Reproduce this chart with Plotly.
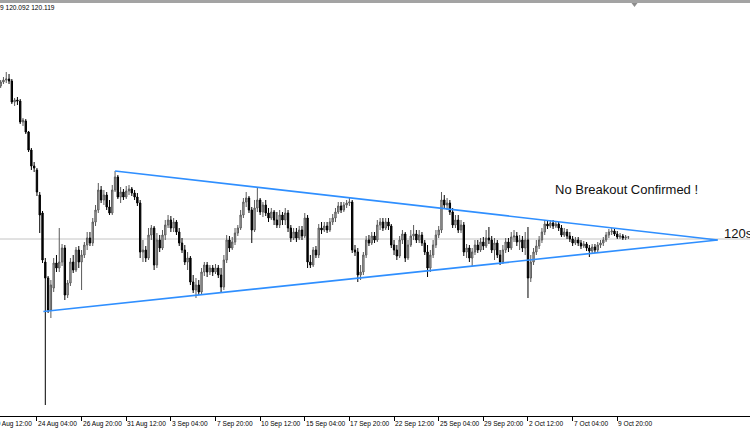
import plotly.graph_objects as go

# ---------------- data (H4 bars, index 0 = 19 Aug 12:00) ----------------
tick_labels = ["19 Aug 12:00", "24 Aug 04:00", "26 Aug 20:00", "31 Aug 12:00",
               "3 Sep 04:00", "7 Sep 20:00", "10 Sep 12:00", "15 Sep 04:00",
               "17 Sep 20:00", "22 Sep 12:00", "25 Sep 04:00", "29 Sep 20:00",
               "2 Oct 12:00", "7 Oct 04:00", "9 Oct 20:00"]
tick_bars = [0, 16, 32, 48, 64, 80, 96, 112, 128, 144, 160, 176, 192, 208, 224]

first_bar = 3

opens = [
    123.04, 123.12, 123.16, 123.18, 123.14, 122.72, 122.76, 122.74, 122.32, 122.34,
    122.12, 121.76, 121.44, 121.36, 120.86, 120.50, 119.52, 119.20, 118.56, 119.00,
    119.50, 119.40, 119.52, 119.80, 118.86, 119.10, 119.52, 119.36, 119.76, 119.52,
    119.66, 119.86, 120.00, 119.90, 120.32, 120.56, 120.96, 120.76, 120.86, 120.62,
    120.50, 120.96, 121.22, 120.82, 120.92, 120.82, 120.94, 120.98, 120.90, 120.82,
    120.70, 119.72, 119.76, 119.60, 120.06, 120.20, 119.46, 119.96, 119.80, 120.06,
    120.26, 120.36, 120.20, 120.32, 120.12, 119.90, 119.76, 119.52, 119.60, 119.12,
    118.96, 119.06, 118.92, 119.32, 119.46, 119.32, 119.40, 119.32, 119.40, 119.26,
    119.02, 119.56, 119.96, 119.80, 119.92, 120.10, 120.20, 120.46, 120.72, 120.80,
    120.56, 120.16, 120.60, 120.76, 120.52, 120.66, 120.50, 120.40, 120.52, 120.36,
    120.26, 120.46, 120.36, 120.50, 120.20, 120.00, 120.12, 120.00, 120.16, 120.04,
    120.40, 119.52, 119.46, 119.76, 119.66, 120.20, 120.16, 120.24, 120.16, 120.32,
    120.40, 120.52, 120.64, 120.56, 120.66, 120.70, 120.72, 119.76, 119.72, 119.26,
    119.32, 119.66, 119.96, 119.90, 120.04, 119.96, 120.26, 120.32, 120.20, 120.32,
    120.24, 119.86, 119.76, 119.64, 119.96, 120.08, 119.60, 119.86, 120.04, 120.08,
    119.96, 120.06, 119.90, 119.72, 119.40, 119.66, 119.86, 120.06, 120.16, 120.76,
    120.66, 120.70, 120.52, 120.26, 120.36, 120.16, 120.26, 119.72, 119.80, 119.60,
    119.72, 119.86, 119.76, 119.92, 119.84, 120.00, 119.96, 119.76, 119.90, 119.66,
    119.52, 119.76, 119.92, 119.80, 120.02, 120.04, 119.92, 119.96, 119.80, 119.96,
    119.20, 119.52, 119.72, 119.84, 119.96, 120.12, 120.28, 120.24, 120.30, 120.24,
    120.28, 120.20, 120.06, 120.12, 120.04, 119.98, 119.90, 119.96, 119.90, 119.84,
    119.88, 119.80, 119.74, 119.82, 119.76, 119.86, 119.90, 119.96, 120.06, 120.12,
    120.14, 120.08, 120.02, 120.04, 120.00, 120.02,
]
highs = [
    123.16, 123.22, 123.32, 123.28, 123.18, 122.80, 122.82, 122.78, 122.40, 122.38,
    122.14, 121.80, 121.52, 121.40, 120.92, 120.54, 119.60, 119.24, 119.16, 119.60,
    119.66, 120.20, 119.88, 119.86, 119.16, 119.60, 119.66, 119.82, 119.84, 119.76,
    119.92, 120.12, 120.12, 120.40, 120.66, 121.10, 121.04, 120.96, 120.92, 120.76,
    121.06, 121.34, 121.26, 121.02, 120.98, 121.04, 121.06, 121.02, 120.96, 120.90,
    120.76, 119.96, 119.84, 120.20, 120.26, 120.24, 120.10, 120.06, 120.16, 120.36,
    120.46, 120.44, 120.40, 120.36, 120.20, 120.00, 119.86, 119.72, 119.64, 119.26,
    119.20, 119.16, 119.40, 119.52, 119.52, 119.46, 119.46, 119.48, 119.46, 119.40,
    119.66, 120.06, 120.04, 120.02, 120.20, 120.26, 120.56, 120.80, 120.92, 120.84,
    120.62, 120.76, 121.00, 120.80, 120.72, 120.76, 120.60, 120.60, 120.56, 120.52,
    120.56, 120.52, 120.60, 120.56, 120.26, 120.20, 120.20, 120.24, 120.24, 120.50,
    120.46, 119.66, 119.82, 119.84, 120.28, 120.32, 120.32, 120.32, 120.40, 120.48,
    120.60, 120.72, 120.72, 120.72, 120.76, 120.82, 120.76, 119.86, 119.80, 119.46,
    119.72, 120.04, 120.06, 120.12, 120.12, 120.36, 120.40, 120.40, 120.40, 120.40,
    120.28, 119.96, 119.86, 120.04, 120.16, 120.12, 119.96, 120.16, 120.26, 120.16,
    120.16, 120.12, 119.96, 119.86, 119.76, 119.96, 120.16, 120.24, 120.92, 120.86,
    120.80, 120.76, 120.60, 120.46, 120.46, 120.36, 120.32, 119.88, 119.86, 119.80,
    119.96, 119.96, 120.00, 120.02, 120.16, 120.22, 120.04, 120.00, 119.96, 119.76,
    119.86, 120.00, 120.00, 120.12, 120.16, 120.12, 120.06, 120.04, 120.12, 120.22,
    119.66, 119.80, 119.96, 120.04, 120.20, 120.36, 120.36, 120.36, 120.36, 120.34,
    120.32, 120.26, 120.20, 120.18, 120.12, 120.04, 120.02, 120.02, 119.96, 119.94,
    119.92, 119.86, 119.88, 119.88, 119.92, 119.96, 120.02, 120.12, 120.18, 120.20,
    120.18, 120.14, 120.10, 120.08, 120.06, 120.04,
]
lows = [
    123.00, 123.08, 123.10, 123.08, 122.68, 122.64, 122.66, 122.28, 122.24, 122.08,
    121.72, 121.36, 121.32, 120.84, 120.10, 119.50, 116.66, 118.50, 118.40, 118.92,
    119.32, 119.32, 119.44, 118.76, 118.80, 119.04, 119.30, 119.32, 119.40, 118.96,
    119.60, 119.76, 119.84, 119.84, 120.24, 120.50, 120.70, 120.66, 120.56, 120.46,
    120.46, 120.92, 120.78, 120.70, 120.76, 120.78, 120.86, 120.84, 120.76, 120.64,
    119.60, 119.52, 119.52, 119.56, 119.96, 119.36, 119.40, 119.72, 119.76, 119.96,
    120.20, 120.12, 120.12, 120.06, 119.84, 119.70, 119.46, 119.36, 119.06, 118.90,
    118.80, 118.86, 118.88, 119.24, 119.22, 119.26, 119.24, 119.28, 119.20, 118.90,
    118.96, 119.50, 119.72, 119.76, 119.86, 120.04, 120.16, 120.40, 120.62, 120.50,
    119.90, 120.12, 120.52, 120.46, 120.42, 120.44, 120.32, 120.36, 120.26, 120.20,
    120.20, 120.26, 120.26, 120.12, 119.92, 119.96, 119.92, 119.96, 119.96, 120.00,
    119.40, 119.40, 119.42, 119.60, 119.60, 120.08, 120.12, 120.10, 120.12, 120.26,
    120.32, 120.48, 120.50, 120.52, 120.60, 120.64, 119.70, 119.64, 119.12, 119.16,
    119.26, 119.60, 119.84, 119.86, 119.90, 119.92, 120.16, 120.14, 120.16, 120.16,
    119.80, 119.66, 119.56, 119.60, 119.88, 119.52, 119.56, 119.82, 119.96, 119.90,
    119.90, 119.84, 119.66, 119.22, 119.32, 119.60, 119.80, 120.00, 120.10, 120.60,
    120.56, 120.46, 120.20, 120.20, 120.10, 120.10, 119.64, 119.60, 119.52, 119.44,
    119.66, 119.70, 119.72, 119.76, 119.80, 119.88, 119.70, 119.56, 119.60, 119.46,
    119.48, 119.70, 119.72, 119.76, 119.92, 119.84, 119.76, 119.72, 119.66, 118.80,
    119.12, 119.46, 119.66, 119.78, 119.90, 120.06, 120.18, 120.20, 120.18, 120.20,
    120.14, 120.02, 120.02, 119.98, 119.92, 119.84, 119.86, 119.84, 119.78, 119.80,
    119.74, 119.62, 119.68, 119.70, 119.72, 119.80, 119.84, 119.92, 120.00, 120.06,
    120.04, 119.98, 119.98, 119.96, 119.96, 119.98,
]
closes = [
    123.12, 123.16, 123.18, 123.14, 122.72, 122.76, 122.74, 122.32, 122.36, 122.12,
    121.76, 121.44, 121.40, 120.92, 120.46, 119.56, 119.20, 118.56, 119.06, 119.50,
    119.40, 119.52, 119.80, 118.86, 119.10, 119.52, 119.36, 119.76, 119.52, 119.66,
    119.86, 120.00, 119.90, 120.32, 120.56, 120.96, 120.76, 120.86, 120.62, 120.50,
    120.96, 121.22, 120.82, 120.92, 120.82, 120.94, 120.98, 120.90, 120.82, 120.70,
    119.72, 119.76, 119.60, 120.06, 120.20, 119.46, 119.96, 119.80, 120.06, 120.26,
    120.36, 120.20, 120.32, 120.12, 119.90, 119.76, 119.52, 119.60, 119.12, 118.96,
    119.06, 118.92, 119.32, 119.46, 119.32, 119.40, 119.32, 119.40, 119.26, 119.02,
    119.56, 119.96, 119.80, 119.92, 120.10, 120.20, 120.46, 120.72, 120.80, 120.56,
    120.16, 120.60, 120.76, 120.52, 120.66, 120.50, 120.40, 120.52, 120.36, 120.26,
    120.46, 120.36, 120.50, 120.20, 120.00, 120.12, 120.00, 120.16, 120.04, 120.40,
    119.52, 119.46, 119.76, 119.66, 120.20, 120.16, 120.24, 120.16, 120.32, 120.40,
    120.52, 120.64, 120.56, 120.66, 120.70, 120.72, 119.76, 119.72, 119.26, 119.32,
    119.66, 119.96, 119.90, 120.04, 119.96, 120.26, 120.32, 120.20, 120.32, 120.24,
    119.86, 119.76, 119.64, 119.96, 120.08, 119.60, 119.86, 120.04, 120.08, 119.96,
    120.06, 119.90, 119.72, 119.40, 119.66, 119.86, 120.06, 120.16, 120.76, 120.66,
    120.70, 120.52, 120.26, 120.36, 120.16, 120.26, 119.72, 119.80, 119.60, 119.72,
    119.86, 119.76, 119.92, 119.84, 120.00, 119.96, 119.76, 119.90, 119.66, 119.52,
    119.76, 119.92, 119.80, 120.02, 120.04, 119.92, 119.96, 119.80, 119.96, 119.20,
    119.52, 119.72, 119.84, 119.96, 120.12, 120.28, 120.24, 120.30, 120.24, 120.28,
    120.20, 120.06, 120.12, 120.04, 119.98, 119.90, 119.96, 119.90, 119.84, 119.88,
    119.80, 119.74, 119.82, 119.76, 119.86, 119.90, 119.96, 120.06, 120.12, 120.14,
    120.08, 120.02, 120.04, 120.00, 120.02, 120.02,
]

# trend lines of the triangle (bar index, price)
upper_trend_bars = [44, 260]
upper_trend_prices = [121.34, 119.96]
lower_trend_bars = [18.3, 260]
lower_trend_prices = [118.53, 119.96]

level_price = 119.98          # horizontal line
level_label = "120s"
note_text = "No Breakout Confirmed !"
header_text = "9 120.092 120.119"

bars = list(range(first_bar, first_bar + len(closes)))

# ---------------- layout constants ----------------
W, H = 750, 430
PLOT_H = 416                       # plot area height (x axis line at y=416)
BAR_PX = 2.79                      # pixels per H4 bar
BAR0_PX = -7.7                     # pixel x of bar index 0
x_min = -BAR0_PX / BAR_PX
x_max = x_min + W / BAR_PX
PRICE_PER_PX = 0.02
y_top = 124.76
y_bot = y_top - PLOT_H * PRICE_PER_PX

FONT = "Liberation Sans, Arial, sans-serif"
BLUE = "#2f8fff"

fig = go.Figure()

fig.add_trace(go.Candlestick(
    x=bars, open=opens, high=highs, low=lows, close=closes,
    increasing=dict(line=dict(color="#5a5a5a", width=1), fillcolor="#b8b8b8"),
    decreasing=dict(line=dict(color="#000000", width=1), fillcolor="#000000"),
    whiskerwidth=0, hoverinfo="skip", showlegend=False,
))

for bx, py in ((upper_trend_bars, upper_trend_prices), (lower_trend_bars, lower_trend_prices)):
    fig.add_trace(go.Scatter(x=bx, y=py, mode="lines",
                             line=dict(color=BLUE, width=1.7),
                             hoverinfo="skip", showlegend=False))

shapes = [
    dict(type="line", xref="paper", x0=0, x1=1, yref="y", y0=level_price, y1=level_price,
         line=dict(color="#c4c4c4", width=1), layer="below"),
    dict(type="rect", xref="paper", x0=0, x1=1, yref="paper", y0=1 - 3 / PLOT_H, y1=1,
         line=dict(width=0), fillcolor="#a3a3a3", layer="above"),
    dict(type="path", xref="paper", yref="paper",
         path=f"M {631.5/W} {1-3/PLOT_H} L {637.5/W} {1-3/PLOT_H} L {634.5/W} {1-7/PLOT_H} Z",
         line=dict(width=0), fillcolor="#8c8c8c"),
]

annotations = []
for b, lab in zip(tick_bars, tick_labels):
    ax_ = max(b, x_min + 1e-6)
    annotations.append(dict(
        x=ax_, xref="x", y=0, yref="paper", yanchor="top", xanchor="left",
        xshift=(b - ax_) * BAR_PX - 1, yshift=-2, showarrow=False, text=lab,
        font=dict(family=FONT, size=6.6, color="#000000")))

annotations.append(dict(x=201, xref="x", y=120.98, yref="y", xanchor="left", yanchor="middle",
                        showarrow=False, text=note_text,
                        font=dict(family=FONT, size=13, color="#111111")))
annotations.append(dict(x=261.6, xref="x", y=120.10, yref="y", xanchor="left", yanchor="middle",
                        showarrow=False, text=level_label,
                        font=dict(family=FONT, size=13, color="#111111")))
annotations.append(dict(x=0, xref="paper", y=1, yref="paper", xanchor="left", yanchor="top",
                        yshift=-2, xshift=-2, showarrow=False, text=header_text,
                        font=dict(family=FONT, size=6.6, color="#000000")))

fig.update_layout(
    width=W, height=H,
    margin=dict(l=0, r=0, t=0, b=H - PLOT_H, pad=0),
    paper_bgcolor="#ffffff", plot_bgcolor="#ffffff",
    showlegend=False, hovermode=False,
    shapes=shapes, annotations=annotations,
    xaxis=dict(range=[x_min, x_max], showgrid=False, zeroline=False,
               rangeslider=dict(visible=False),
               showline=True, linecolor="#000000", linewidth=1,
               ticks="outside", ticklen=4, tickcolor="#000000", tickwidth=1,
               tickvals=tick_bars, showticklabels=False, fixedrange=True),
    yaxis=dict(range=[y_bot, y_top], showgrid=False, zeroline=False,
               showline=False, showticklabels=False, ticks="", fixedrange=True),
)

fig.write_html("out.html", config={"displayModeBar": False, "staticPlot": True},
               post_script="document.body.style.margin='0px';")
